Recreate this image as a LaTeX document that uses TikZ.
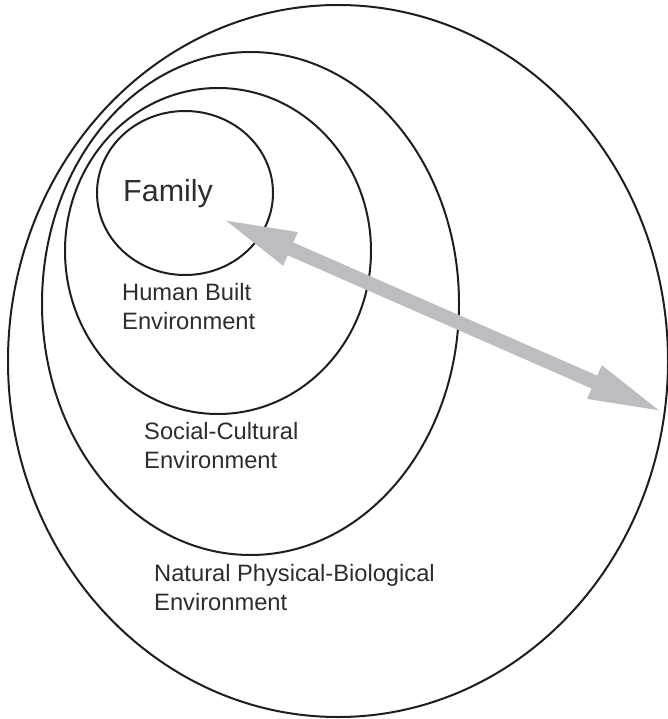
\documentclass[tikz,border=0pt]{standalone}
\usepackage{fontspec}
\setmainfont{Liberation Sans}
\usetikzlibrary{arrows.meta}
\definecolor{ringcol}{RGB}{30,30,30}
\definecolor{txtcol}{RGB}{45,45,45}
\definecolor{arrcol}{RGB}{188,189,192}
\tikzset{
  ring/.style={draw=ringcol, line width=2pt},
  lbl/.style={anchor=base west, inner sep=0pt, text=txtcol, align=left,
    font=\fontsize{23.7}{29}\selectfont},
  biglbl/.style={anchor=base west, inner sep=0pt, text=txtcol,
    font=\fontsize{30.5}{36}\selectfont},
  twoway/.style={draw=arrcol, line width=14pt,
    {Triangle[length=77pt,width=32pt]}-{Triangle[length=77pt,width=32pt]}}
}
\begin{document}
\begin{tikzpicture}[x=1pt,y=-1pt]
\useasboundingbox (0,0) rectangle (668,719);
% rings
\draw[ring] (338,361) ellipse [x radius=330, y radius=356];
\draw[ring] (250.5,303.5) ellipse [x radius=208.5, y radius=251.5];
\draw[ring] (218,251) ellipse [x radius=153, y radius=163];
\draw[ring] (185,193) ellipse [x radius=88, y radius=82];
% labels (base = baseline of last line)
\node[biglbl] (family) at (123,202) {Family};
\node[lbl] (hb) at (122,329) {Human Built\\Environment};
\node[lbl] (sc) at (144,468) {Social-Cultural\\Environment};
\node[lbl] (np) at (154,610) {Natural Physical-Biological\\Environment};
% arrow
\coordinate (a1) at (220,218);
\coordinate (a2) at (665,413);
\draw[twoway] (a1) -- (a2);
\end{tikzpicture}
\end{document}
